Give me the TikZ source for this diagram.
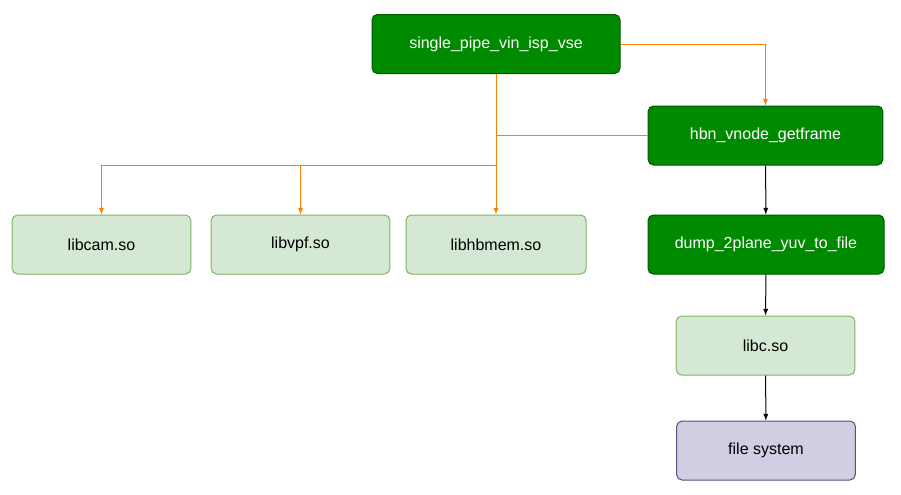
\documentclass[tikz,border=0pt]{standalone}
\usepackage{fontspec}
\setmainfont{Liberation Sans}
\usetikzlibrary{positioning}
\definecolor{dkgreen}{HTML}{008A00}
\definecolor{dkgreenline}{HTML}{005700}
\definecolor{ltgreen}{HTML}{D5E8D4}
\definecolor{ltgreenline}{HTML}{82B366}
\definecolor{ltpurple}{HTML}{D0CEE2}
\definecolor{ltpurpleline}{HTML}{56517E}
\definecolor{orangeline}{HTML}{FF8000}
\tikzset{
  box/.style={rectangle, rounded corners=4pt, minimum height=44.25pt, font=\fontsize{12}{14}\selectfont, line width=0.75pt},
  func/.style={box, fill=dkgreen, draw=dkgreenline, text=white},
  lib/.style={box, fill=ltgreen, draw=ltgreenline},
  sys/.style={box, fill=ltpurple, draw=ltpurpleline},
  call/.style={draw=orangeline, line width=0.75pt, -latex},
  flow/.style={draw=black, line width=0.75pt, -latex}
}
\begin{document}
\begin{tikzpicture}[x=0.75pt, y=-0.75pt]
  \useasboundingbox (0,0) rectangle (901,494);
  \node[func, minimum width=186pt] (pipe)   at (496,44)    {single\_pipe\_vin\_isp\_vse};
  \node[func, minimum width=176pt] (getfrm) at (765.5,135.5) {hbn\_vnode\_getframe};
  \node[func, minimum width=177pt] (dump)   at (766,244.5) {dump\_2plane\_yuv\_to\_file};
  \node[lib,  minimum width=134pt] (libc)   at (765.5,345.5) {libc.so};
  \node[sys,  minimum width=134pt] (fs)     at (766,450.5) {file system};
  \node[lib,  minimum width=134pt] (libcam) at (101.5,244.5) {libcam.so};
  \node[lib,  minimum width=134pt] (libvpf) at (300.5,244.5) {libvpf.so};
  \node[lib,  minimum width=135pt] (libmem) at (496,244.5) {libhbmem.so};

  \coordinate (join) at (496,135.5);
  \coordinate (fork) at (496,165);

  \draw[call] (pipe.east) -| (getfrm.north);
  \draw[call] (pipe.south) -- (libmem.north);
  \draw[orangeline, line width=0.75pt] (getfrm.west) -- (join);
  \draw[call] (fork) -| (libcam.north);
  \draw[call] (fork) -| (libvpf.north);

  \draw[flow] (getfrm) -- (dump);
  \draw[flow] (dump) -- (libc);
  \draw[flow] (libc) -- (fs);
\end{tikzpicture}
\end{document}
